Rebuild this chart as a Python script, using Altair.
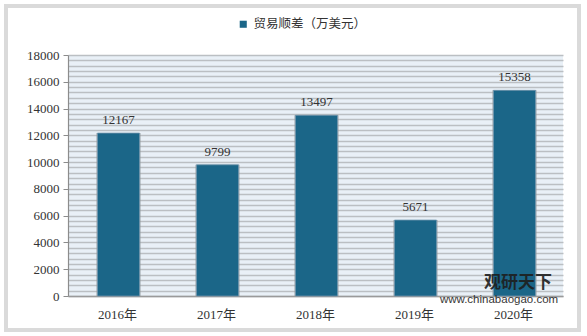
import altair as alt
import pandas as pd

years = ["2016年", "2017年", "2018年", "2019年", "2020年"]
values = [12167, 9799, 13497, 5671, 15358]
series_name = "贸易顺差（万美元）"
y_ticks = list(range(0, 18001, 400))

df = pd.DataFrame({"year": years, "value": values, "series": [series_name] * len(years)})

BAR = "#1b6688"
SERIF = "Liberation Serif, Noto Sans CJK SC"

x_enc = alt.X(
    "year:N", sort=years,
    scale=alt.Scale(paddingInner=0.1, paddingOuter=0.05),
    axis=alt.Axis(title=None, labelAngle=0, ticks=False, domainColor="#9a9a9a", domainWidth=1.5,
                  labelFont=SERIF, labelFontSize=13, labelColor="#333333", labelPadding=12),
)
y_enc = alt.Y(
    "value:Q",
    scale=alt.Scale(domain=[0, 18000], nice=False),
    axis=alt.Axis(
        title=None, values=y_ticks, format="d",
        labelExpr="datum.value % 2000 === 0 ? datum.label : ''",
        labelOverlap=False, labelFont=SERIF, labelFontSize=13, labelColor="#333333",
        labelPadding=4, tickSize=5, tickColor="#8c8c8c",
        tickOpacity={"condition": {"test": "datum.value % 2000 === 0", "value": 1}, "value": 0},
        domainColor="#8c8c8c", domainWidth=1.2,
        grid=True, gridColor="#bbbfc3", gridWidth=1.3,
    ),
)

base = alt.Chart(df)

frame = base.mark_rect(fillOpacity=0, stroke="#dadada", strokeWidth=4).encode(
    x=alt.value(-62), x2=alt.value(511), y=alt.value(-49), y2=alt.value(275)
).transform_filter("datum.year === '2016年'")

shadow = base.mark_bar(size=45, color="#8f969c", opacity=0.45, xOffset=1).encode(x=x_enc, y=y_enc)

bars = base.mark_bar(size=42, stroke="#6f93ab", strokeWidth=0.8, xOffset=1).encode(
    x=x_enc, y=y_enc,
    color=alt.Color("series:N", scale=alt.Scale(domain=[series_name], range=[BAR]),
                    legend=alt.Legend(title=None, orient="none", legendX=169, legendY=-37,
                                      symbolType="square", symbolSize=50, symbolStrokeWidth=0,
                                      labelFont="Noto Sans CJK SC", labelFontSize=12.5,
                                      labelColor="#333333", padding=0)),
)

labels = base.mark_text(baseline="bottom", dy=-6, xOffset=1, font=SERIF, fontSize=13, color="#333333").encode(
    x=x_enc, y=y_enc, text=alt.Text("value:Q", format="d")
)

wm1 = base.mark_text(font="Noto Sans CJK SC", fontSize=17, fontWeight="bold", color="#1e1e1e", opacity=0.9).encode(
    x=alt.value(450), y=alt.value(228), text=alt.value("观研天下")
).transform_filter("datum.year === '2016年'")
wm2 = base.mark_text(font="Liberation Sans", fontSize=11.5, color="#222222", opacity=0.9).encode(
    x=alt.value(431), y=alt.value(245), text=alt.value("www.chinabaogao.com")
).transform_filter("datum.year === '2016年'")

chart = alt.layer(frame, shadow, bars, labels, wm1, wm2).properties(
    width=495, height=241,
    autosize=alt.AutoSizeParams(type="none"),
    padding={"left": 68, "top": 55, "right": 24, "bottom": 40},
    background="#ffffff",
).configure_view(fill="#e9f0f7", strokeWidth=0)

chart.save("out.html", embed_options={"renderer": "svg", "actions": False})
